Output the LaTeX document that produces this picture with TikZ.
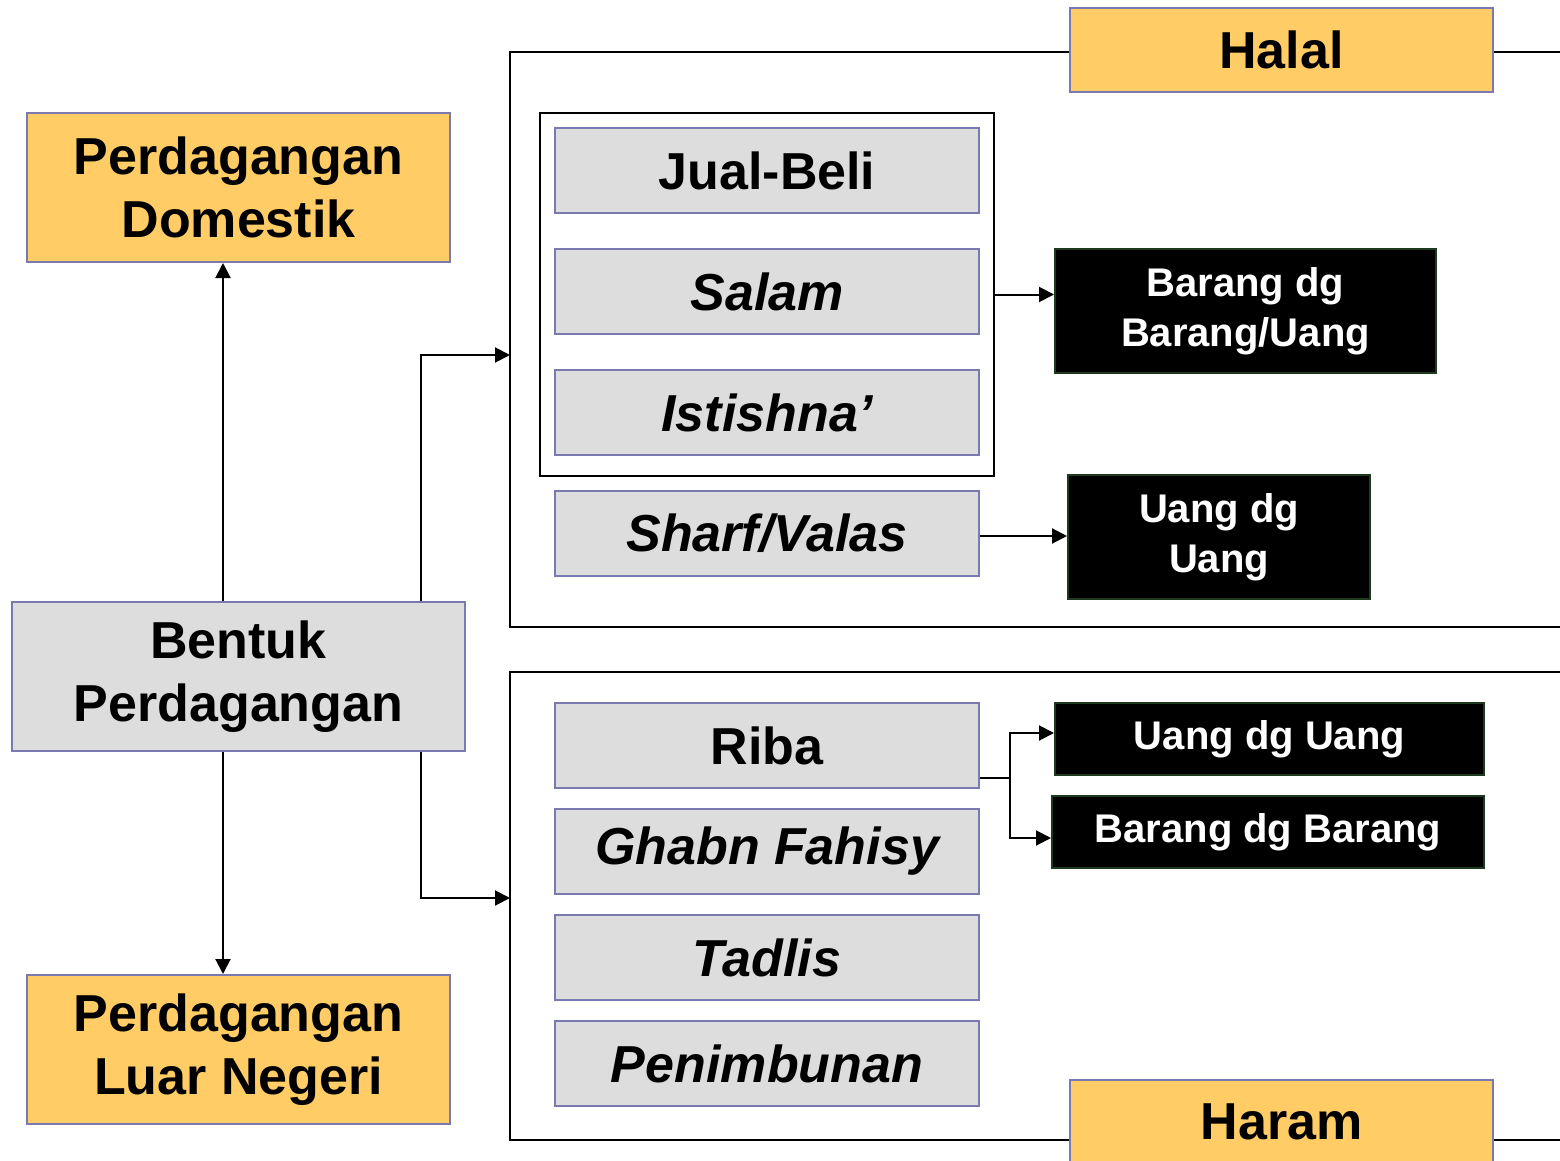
\documentclass[tikz,border=0pt]{standalone}
\usepackage{fontspec}
\setmainfont{Liberation Sans}
\usetikzlibrary{arrows.meta}
\definecolor{gold}{HTML}{FFCC66}
\definecolor{lilac}{HTML}{7A7AB0}
\definecolor{pale}{HTML}{DDDDDD}
\definecolor{deepgreen}{HTML}{1E3A1E}
\tikzset{
  big/.style={font=\fontsize{52}{63}\selectfont\bfseries, align=center, inner sep=0pt},
  goldbox/.style={big, draw=lilac, line width=2pt, fill=gold},
  greybox/.style={big, draw=lilac, line width=2pt, fill=pale, minimum width=424pt, minimum height=85pt},
  darkbox/.style={draw=deepgreen, line width=2pt, fill=black, text=white, align=center, inner sep=0pt,
    font=\fontsize{40}{50}\selectfont\bfseries},
  frame/.style={draw=black, line width=2pt, inner sep=0pt},
  conn/.style={draw=black, line width=2pt},
  arr/.style={conn, -{Triangle[length=15pt,width=15pt]}},
}
\begin{document}
\begin{tikzpicture}[x=1pt, y=-1pt]
  \useasboundingbox (0,0) rectangle (1560,1161);
  \clip (0,0) rectangle (1560,1161);

  % outer group frames (open to the right)
  \draw[conn] (1600,52) -- (510,52) -- (510,627) -- (1600,627);
  \draw[conn] (1600,672) -- (510,672) -- (510,1140) -- (1600,1140);

  % group labels
  \node[goldbox, minimum width=423pt, minimum height=84pt] (halal) at (1281.5,50) {Halal};
  \node[goldbox, minimum width=423pt, minimum height=84pt] (haram) at (1281.5,1122) {Haram};

  % left column
  \node[goldbox, minimum width=423pt, minimum height=149pt] (dom) at (238.5,187.5) {Perdagangan\\Domestik};
  \node[big, draw=lilac, line width=2pt, fill=pale, minimum width=453pt, minimum height=149pt] (bentuk) at (238.5,676.5) {Bentuk\\Perdagangan};
  \node[goldbox, minimum width=423pt, minimum height=149pt] (luar) at (238.5,1049.5) {Perdagangan\\Luar Negeri};

  % halal contracts
  \node[frame, minimum width=454pt, minimum height=363pt] (inner) at (767,294.5) {};
  \node[greybox] (jual) at (767,170.5) {Jual-Beli};
  \node[greybox] (salam) at (767,291.5) {\itshape Salam};
  \node[greybox] (istis) at (767,412.5) {\itshape Istishna’};
  \node[greybox] (sharf) at (767,533.5) {\itshape Sharf/Valas};

  % haram practices
  \node[greybox] (riba) at (767,745.5) {Riba};
  \node[greybox] (ghabn) at (767,851.5) {\itshape Ghabn Fahisy};
  \node[greybox] (tadlis) at (767,957.5) {\itshape Tadlis};
  \node[greybox] (timbun) at (767,1063.5) {\itshape Penimbunan};

  % exchange types
  \node[darkbox, minimum width=381pt, minimum height=124pt] (bbu) at (1245.5,311) {Barang dg\\Barang/Uang};
  \node[darkbox, minimum width=302pt, minimum height=124pt] (uu) at (1219,537) {Uang dg\\Uang};
  \node[darkbox, minimum width=429pt, minimum height=72pt] (uu2) at (1269.5,739) {Uang dg Uang};
  \node[darkbox, minimum width=432pt, minimum height=72pt] (bb2) at (1268,832) {Barang dg Barang};

  % connector anchor points
  \coordinate (halin) at (510,355);
  \coordinate (harin) at (510,898);
  \coordinate (split) at (1010,778);

  % connectors
  \draw[arr] ([xshift=-15.5pt]bentuk.north) -- ([xshift=-15.5pt]dom.south);
  \draw[arr] ([xshift=-15.5pt]bentuk.south) -- ([xshift=-15.5pt]luar.north);
  \draw[arr] ([xshift=-45pt]bentuk.north east) |- (halin);
  \draw[arr] ([xshift=-45pt]bentuk.south east) |- (harin);
  \draw[arr] (inner.east) -- (inner.east -| bbu.west);
  \draw[arr] ([yshift=-2.5pt]sharf.east) -- ([yshift=-2.5pt]sharf.east -| uu.west);
  \draw[conn] (riba.east |- split) -- (split);
  \draw[arr] (split) |- ([yshift=6pt]uu2.west);
  \draw[arr] (split) |- ([yshift=-6pt]bb2.west);
\end{tikzpicture}
\end{document}
